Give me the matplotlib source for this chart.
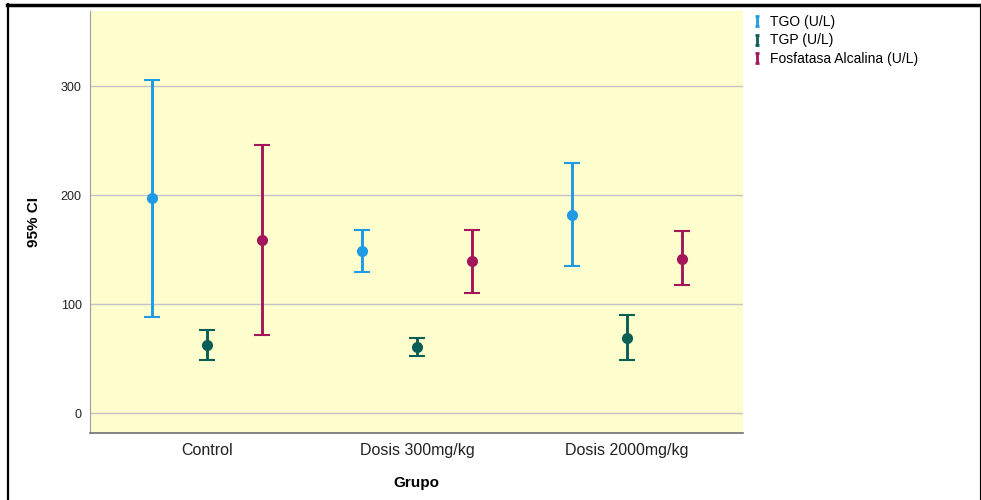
import matplotlib.pyplot as plt
from matplotlib.lines import Line2D
from matplotlib.path import Path

plt.rcParams['font.family'] = ['Liberation Sans', 'DejaVu Sans']

groups = ['Control', 'Dosis 300mg/kg', 'Dosis 2000mg/kg']
series = ['TGO (U/L)', 'TGP (U/L)', 'Fosfatasa Alcalina (U/L)']
colors = ['#1E9AE6', '#0B5E55', '#A3175A']

# mean, lower and upper 95% CI per series, one value per group
means = [[197.5, 149, 182], [62.4, 61, 69.4], [159, 139.5, 142]]
lower = [[88.4, 129.3, 135], [49.2, 52.9, 48.6], [72.2, 110.6, 118]]
upper = [[306, 168, 229.4], [76, 69.5, 90], [245.9, 168.4, 167]]

offsets = [-0.262, 0, 0.262]

fig = plt.figure(figsize=(9.81, 5.0), dpi=100)
ax = fig.add_axes([90 / 981, 67 / 500, 653 / 981, 422 / 500])
ax.set_facecolor('#FEFDCD')

for i in range(len(series)):
    xs = [g + offsets[i] for g in range(len(groups))]
    err = [[m - lo for m, lo in zip(means[i], lower[i])],
           [up - m for m, up in zip(means[i], upper[i])]]
    ax.errorbar(xs, means[i], yerr=err, fmt='o', color=colors[i], ecolor=colors[i],
                elinewidth=2.1, capsize=5.5, capthick=2.1, markersize=6.5,
                markeredgewidth=1.5, zorder=3)

ax.set_xlim(-0.557, 2.552)
ax.set_ylim(-18, 369)
ax.set_yticks([0, 100, 200, 300])
ax.set_xticks(range(len(groups)))
ax.set_xticklabels(groups, fontsize=11.5, color='#222222')
ax.tick_params(axis='y', length=0, labelsize=9, pad=6, colors='#222222')
ax.tick_params(axis='x', length=0, pad=7)
ax.grid(axis='y', color='#C4C4C4', linewidth=1)
ax.set_axisbelow(True)
for s in ['top', 'right']:
    ax.spines[s].set_visible(False)
ax.spines['left'].set_color('#A0A0A0')
ax.spines['bottom'].set_color('#707070')
ax.spines['bottom'].set_linewidth(1.2)

ax.set_xlabel('Grupo', fontsize=11, fontweight='bold', labelpad=13)
ax.set_ylabel('95% CI', fontsize=11, fontweight='bold', labelpad=14)

# little "I" glyph used by the legend
ibar = Path([(-0.45, 1), (0.45, 1), (0, 1), (0, -1), (-0.45, -1), (0.45, -1)],
            [Path.MOVETO, Path.LINETO, Path.MOVETO, Path.LINETO, Path.MOVETO, Path.LINETO])
handles = [Line2D([], [], marker=ibar, linestyle='None', color=c, markersize=7,
                  markeredgewidth=2, markerfacecolor='none')
           for c in colors]
fig.legend(handles, series, loc='upper left', bbox_to_anchor=(746 / 981, 491 / 500),
           frameon=False, fontsize=10, handlelength=0.8, handletextpad=0.5,
           labelspacing=0.35, borderaxespad=0)

# outer frame of the exported image
fig.add_artist(Line2D([7 / 981, 1], [495.5 / 500, 495.5 / 500], color='black', linewidth=2.5))
fig.add_artist(Line2D([7.5 / 981, 7.5 / 981], [0, 496 / 500], color='black', linewidth=1.6))
fig.add_artist(Line2D([979.5 / 981, 979.5 / 981], [0, 496 / 500], color='black', linewidth=0.8))

fig.savefig('out.png', dpi=100)
